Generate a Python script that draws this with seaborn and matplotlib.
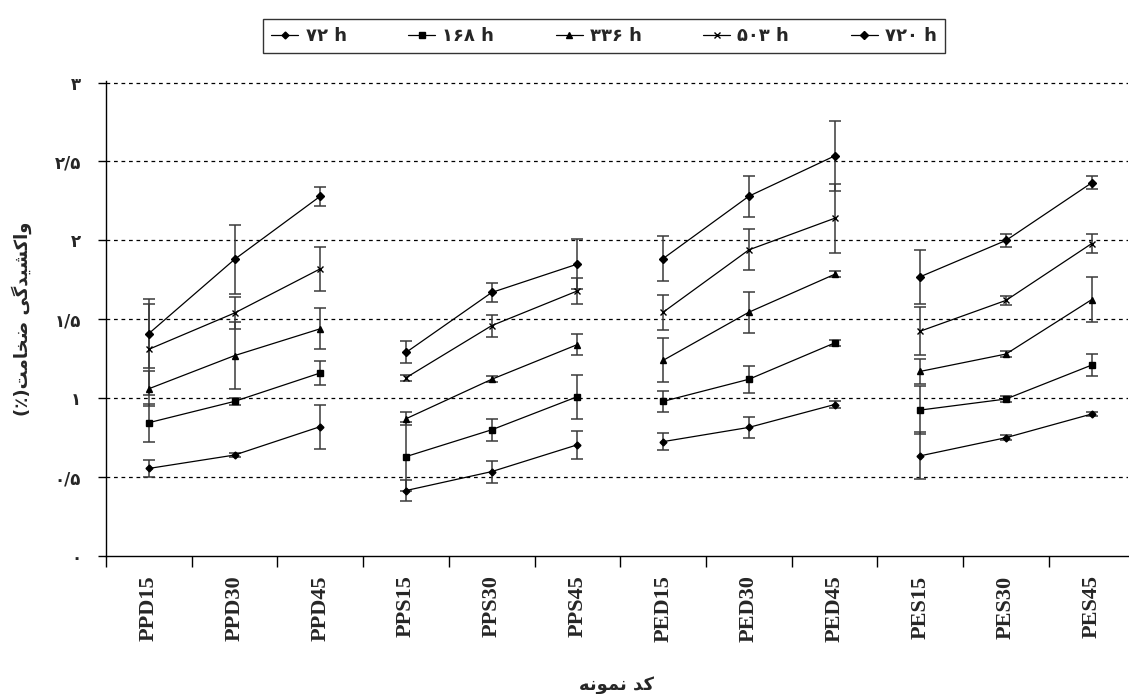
import pandas as pd
import seaborn as sns
import matplotlib.pyplot as plt
from matplotlib.lines import Line2D
from matplotlib.ticker import FixedLocator

sns.set_theme(style="white")
plt.rcParams['font.family'] = ['DejaVu Sans']

# Data
samples = ["PPD15", "PPD30", "PPD45", "PPS15", "PPS30", "PPS45",
           "PED15", "PED30", "PED45", "PES15", "PES30", "PES45"]
groups = ["PPD"] * 3 + ["PPS"] * 3 + ["PED"] * 3 + ["PES"] * 3
times = ["\u06f7\u06f2 h", "\u06f1\u06f6\u06f8 h", "\u06f3\u06f3\u06f6 h",
         "\u06f5\u06f0\u06f3 h", "\u06f7\u06f2\u06f0 h"]

v72 = [0.555, 0.64, 0.82, 0.415, 0.535, 0.705, 0.725, 0.815, 0.96, 0.635, 0.75, 0.90]
v168 = [0.845, 0.98, 1.16, 0.63, 0.80, 1.01, 0.98, 1.12, 1.35, 0.925, 0.995, 1.21]
v336 = [1.06, 1.27, 1.44, 0.87, 1.12, 1.34, 1.24, 1.545, 1.785, 1.17, 1.28, 1.625]
v503 = [1.31, 1.54, 1.82, 1.13, 1.46, 1.68, 1.545, 1.94, 2.14, 1.425, 1.62, 1.98]
v720 = [1.41, 1.88, 2.28, 1.29, 1.67, 1.85, 1.885, 2.28, 2.535, 1.77, 2.0, 2.365]

e72 = [0.055, 0.01, 0.14, 0.065, 0.07, 0.09, 0.055, 0.065, 0.02, 0.15, 0.015, 0.015]
e168 = [0.12, 0.02, 0.075, 0.22, 0.07, 0.14, 0.065, 0.085, 0.02, 0.15, 0.02, 0.07]
e336 = [0.11, 0.21, 0.13, 0.04, 0.02, 0.065, 0.14, 0.13, 0.02, 0.08, 0.02, 0.14]
e503 = [0.29, 0.1, 0.14, 0.02, 0.07, 0.08, 0.11, 0.13, 0.22, 0.15, 0.03, 0.06]
e720 = [0.22, 0.22, 0.06, 0.07, 0.06, 0.16, 0.14, 0.13, 0.22, 0.17, 0.04, 0.04]

ytick_vals = [0, 0.5, 1, 1.5, 2, 2.5, 3]
ytick_labels = ["\u06f0", "\u06f0/\u06f5", "\u06f1", "\u06f1/\u06f5",
                "\u06f2", "\u06f2/\u06f5", "\u06f3"]

# Persian labels written in visual order with presentation forms
ylabel = ("(\u066a)" + "\ufe96\ufee3\ufe8e\ufea8\ufebf" + " "
          + "\ufbfd\ufb94\ufeaa\ufbff\ufeb8\ufb90\ufe8d\ufeed")
xlabel = "\ufeea\ufee7\ufeee\ufee4\ufee7 \ufeaa\ufb90"

# Long table
rows = []
for t, vals, errs in zip(times, [v72, v168, v336, v503, v720],
                         [e72, e168, e336, e503, e720]):
    for i, (s, g) in enumerate(zip(samples, groups)):
        rows.append({"pos": i, "sample": s, "group": g, "time": t,
                     "value": vals[i], "err": errs[i]})
df = pd.DataFrame(rows)

fig = plt.figure(figsize=(11.29, 6.94), dpi=100)
ax = fig.add_axes([0.0939, 0.1988, 0.905, 0.6845])

markers = {times[0]: ("D", 3.5), times[1]: ("s", 4.5), times[2]: ("^", 5),
           times[3]: ("x", 5), times[4]: ("D", 4)}

handles = []
for t in times:
    d = df[df["time"] == t]
    ax.errorbar(d["pos"], d["value"], yerr=d["err"], fmt="none",
                ecolor="#3a3a3a", elinewidth=1.1, capsize=4, capthick=1.1,
                zorder=2)
    m, ms = markers[t]
    sns.lineplot(data=d, x="pos", y="value", units="group", estimator=None,
                 color="black", marker=m, markersize=ms, markeredgewidth=1,
                 markeredgecolor="black", markerfacecolor="black",
                 linewidth=0.9, legend=False, ax=ax, zorder=3)
    handles.append(Line2D([], [], color="black", linewidth=0.9, marker=m,
                          markersize=ms, markeredgecolor="black",
                          markerfacecolor="black", markeredgewidth=1))

leg = fig.legend(handles, times, loc="center", ncol=5,
                 bbox_to_anchor=(0.535, 0.948), frameon=True,
                 fancybox=False, edgecolor="black", handlelength=1.5,
                 columnspacing=3.4, handletextpad=0.4, borderpad=0.45,
                 prop={"family": "DejaVu Sans", "weight": "bold", "size": 13})
leg.get_frame().set_linewidth(1.0)

ax.set_xlim(-0.5, 11.42)
ax.set_ylim(0, 3.01)

for y in ytick_vals[1:]:
    ax.axhline(y, color="black", linestyle=(0, (3, 3)), linewidth=0.9,
               zorder=1)

ax.set_xticks(range(len(samples)))
ax.set_xticklabels(samples, rotation=90, fontfamily="Liberation Serif",
                   fontweight="bold", fontsize=16)
ax.xaxis.set_minor_locator(FixedLocator([i + 0.5 for i in range(-1, 11)]))
ax.tick_params(axis="x", which="major", length=0, pad=14)
ax.tick_params(axis="x", which="minor", length=8, width=1, color="black",
               direction="out", bottom=True)

ax.set_yticks(ytick_vals)
ax.set_yticklabels(ytick_labels, fontweight="bold", fontsize=12)
ax.tick_params(axis="y", length=6, width=1, color="black", direction="out",
               left=True, pad=12)

for side in ["top", "right"]:
    ax.spines[side].set_visible(False)
for side in ["left", "bottom"]:
    ax.spines[side].set_color("black")
    ax.spines[side].set_linewidth(1.0)

ax.set_xlabel(xlabel, fontsize=13, fontweight="bold", labelpad=24)
ax.set_ylabel(ylabel, fontsize=13, fontweight="bold", labelpad=16)

fig.savefig("out.png", dpi=100)
